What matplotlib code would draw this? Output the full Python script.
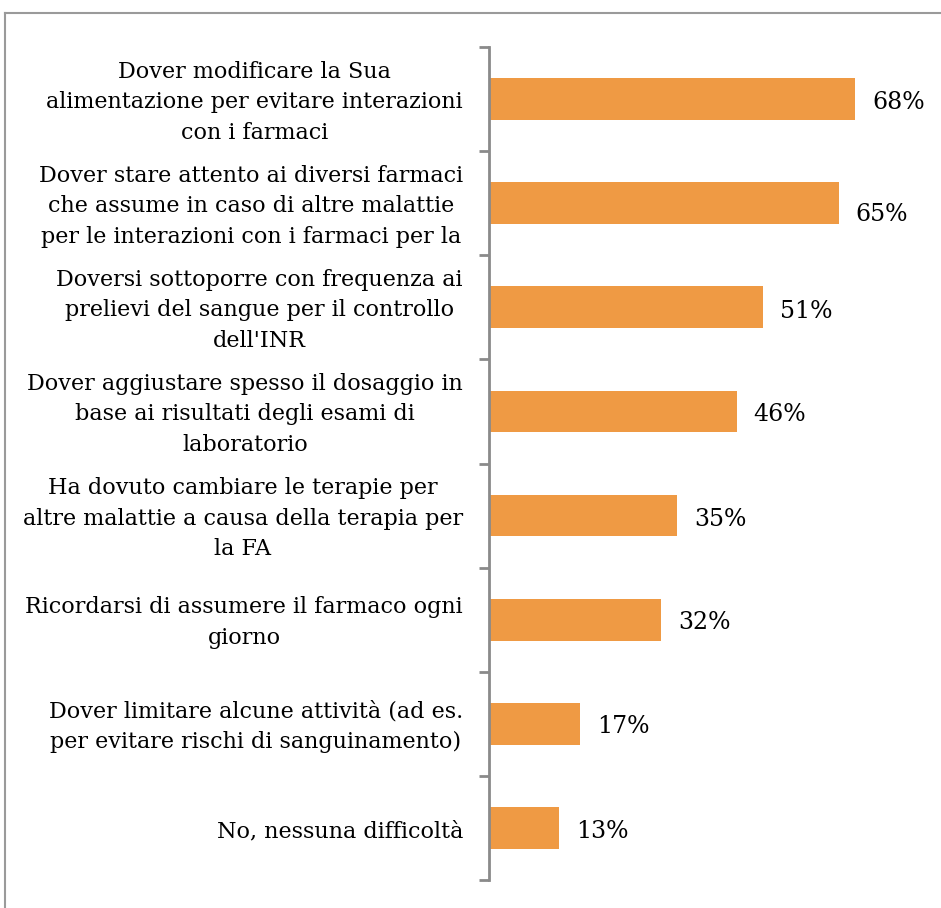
import matplotlib
matplotlib.use("Agg")
import matplotlib.pyplot as plt
from matplotlib.lines import Line2D
import matplotlib.transforms as mtransforms

categories = [
    "Dover modificare la Sua\nalimentazione per evitare interazioni\ncon i farmaci",
    "Dover stare attento ai diversi farmaci\nche assume in caso di altre malattie\nper le interazioni con i farmaci per la",
    "Doversi sottoporre con frequenza ai\nprelievi del sangue per il controllo\ndell'INR",
    "Dover aggiustare spesso il dosaggio in\nbase ai risultati degli esami di\nlaboratorio",
    "Ha dovuto cambiare le terapie per\naltre malattie a causa della terapia per\nla FA",
    "Ricordarsi di assumere il farmaco ogni\ngiorno",
    "Dover limitare alcune attività (ad es.\nper evitare rischi di sanguinamento)",
    "No, nessuna difficoltà",
]
values = [68, 65, 51, 46, 35, 32, 17, 13]
value_labels = ["68%", "65%", "51%", "46%", "35%", "32%", "17%", "13%"]

W, H = 941, 908
fig = plt.figure(figsize=(W / 100, H / 100), dpi=100)
fig.patch.set_facecolor("white")

# frame lines (left and top)
fig.add_artist(Line2D([5 / W, 5 / W], [0, 1 - 13 / H], color="#9a9a9a", lw=1.5))
fig.add_artist(Line2D([5 / W, 1], [1 - 13 / H, 1 - 13 / H], color="#9a9a9a", lw=1.5))

left = 489 / W
bottom = (H - 880) / H
top = (H - 47) / H
ax = fig.add_axes([left, bottom, 1 - left, top - bottom])

n = len(values)
ypos = list(range(n))
ax.barh(ypos, values, height=0.4, color="#EF9A44", edgecolor="none")
ax.set_ylim(n - 0.5, -0.5)
ax.set_xlim(0, 84)

for s in ["top", "right", "bottom"]:
    ax.spines[s].set_visible(False)
ax.spines["left"].set_color("#8a8a8a")
ax.spines["left"].set_linewidth(2)
ax.set_xticks([])
ax.set_yticks([i - 0.5 for i in range(n + 1)])
ax.set_yticklabels([])
ax.tick_params(axis="y", direction="out", length=7, width=2, color="#8a8a8a")

font = "DejaVu Serif"
trans_lab = mtransforms.offset_copy(ax.transData, fig=fig, x=-26, y=-3, units="dots")
for i, lab in enumerate(categories):
    ax.text(0, i, lab, transform=trans_lab, ha="right", va="center",
            multialignment="center", fontsize=16, family=font,
            linespacing=1.5, color="black")

offsets = [-3, -11, -4, -3, -4, -3, -3, -4]
for i, (v, t) in enumerate(zip(values, value_labels)):
    tr = mtransforms.offset_copy(ax.transData, fig=fig, x=17, y=offsets[i], units="dots")
    ax.text(v, i, t, transform=tr, ha="left", va="center", fontsize=17,
            family=font, color="black")

fig.savefig("out.png", dpi=100)
